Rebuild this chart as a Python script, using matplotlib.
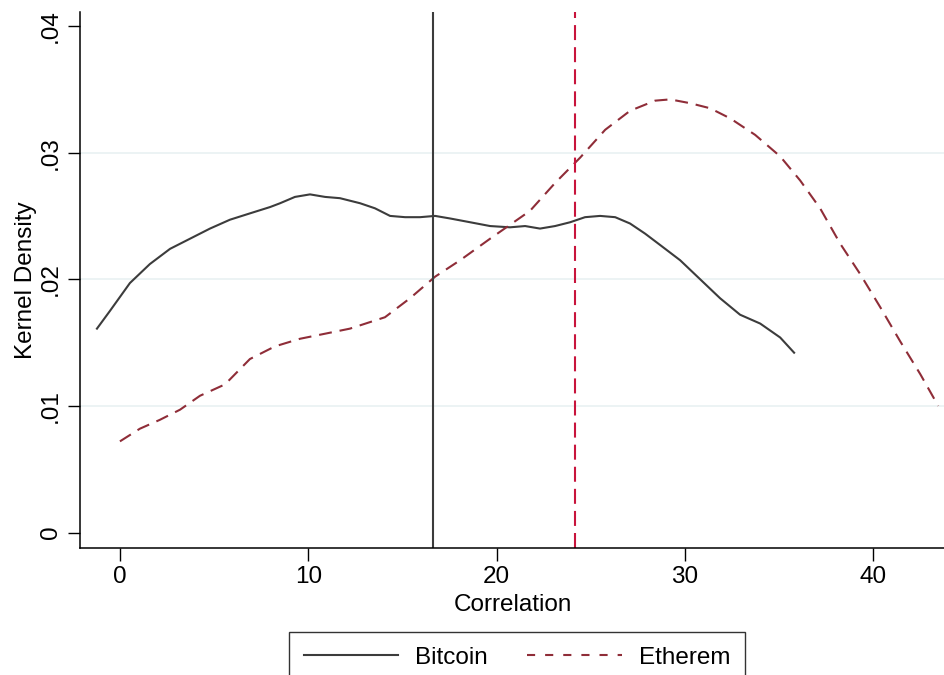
import matplotlib
matplotlib.use("Agg")
import matplotlib.pyplot as plt
from matplotlib.lines import Line2D

plt.rcParams['font.family'] = ['Liberation Sans', 'DejaVu Sans']

btc_x = [-1.22, -0.53, 0.53, 1.59, 2.66, 3.72, 4.78, 5.84, 6.90, 7.97, 8.50, 9.29, 10.09,
         10.89, 11.68, 12.75, 13.54, 14.34, 15.14, 15.93, 16.73, 17.52, 18.59, 19.65, 20.71,
         21.51, 22.30, 23.10, 23.90, 24.69, 25.49, 26.29, 27.08, 27.88, 28.68, 29.74, 30.80,
         31.86, 32.92, 33.99, 35.05, 35.79]
btc_y = [0.0161, 0.0175, 0.0197, 0.0212, 0.0224, 0.0232, 0.0240, 0.0247, 0.0252, 0.0257,
         0.0260, 0.0265, 0.0267, 0.0265, 0.0264, 0.0260, 0.0256, 0.0250, 0.0249, 0.0249,
         0.0250, 0.0248, 0.0245, 0.0242, 0.0241, 0.0242, 0.0240, 0.0242, 0.0245, 0.0249,
         0.0250, 0.0249, 0.0244, 0.0236, 0.0227, 0.0215, 0.0200, 0.0185, 0.0172, 0.0165,
         0.0154, 0.0142]

eth_x = [0.0, 1.06, 2.12, 3.19, 4.25, 5.58, 6.90, 8.23, 9.56, 10.89, 12.21, 14.07, 15.40,
         16.73, 18.06, 19.65, 21.77, 23.10, 24.43, 25.76, 27.08, 28.41, 29.21, 30.27, 31.33,
         32.40, 33.72, 35.05, 36.11, 37.17, 38.24, 39.30, 40.36, 41.42, 42.49, 43.44]
eth_y = [0.0072, 0.0082, 0.0089, 0.0097, 0.0108, 0.0117, 0.0137, 0.0147, 0.0153, 0.0157,
         0.0161, 0.0170, 0.0185, 0.0202, 0.0215, 0.0232, 0.0254, 0.0276, 0.0296, 0.0318,
         0.0333, 0.0341, 0.0342, 0.0339, 0.0335, 0.0327, 0.0314, 0.0297, 0.0278, 0.0256,
         0.0228, 0.0204, 0.0178, 0.0151, 0.0125, 0.0100]

btc_mean = 16.62
eth_mean = 24.16

x_ticks = [0, 10, 20, 30, 40]
y_ticks = [0, 0.01, 0.02, 0.03, 0.04]
y_labels = ["0", ".01", ".02", ".03", ".04"]
series_names = ["Bitcoin", "Etherem"]

FS = 17.5

fig = plt.figure(figsize=(9.45, 6.75), dpi=100)
ax = fig.add_axes([80/945, 1-548/675, 1-80/945, (548-12)/675])

for yv in [0.01, 0.02, 0.03]:
    ax.axhline(yv, color='#eaf2f3', lw=1.3, zorder=0)

ax.plot(btc_x, btc_y, color='#3c3c3c', lw=1.5)
ax.plot(eth_x, eth_y, color='#8f2d38', lw=1.5, dashes=(6.2, 3.8))
ax.axvline(btc_mean, color='#3c3c3c', lw=1.5)
ax.axvline(eth_mean, color='#c8143c', lw=1.5, dashes=(7.2, 3.4))

ax.set_xlim(-2.12, 43.8)
ax.set_ylim(-0.00122, 0.0411)
ax.set_xticks(x_ticks)
ax.set_yticks(y_ticks)
ax.set_yticklabels(y_labels, rotation=90, va='center')
ax.tick_params(axis='both', labelsize=FS, length=9, width=1, direction='out', colors='black')
ax.tick_params(axis='y', pad=4)
ax.tick_params(axis='x', pad=4)
for s in ['top', 'right']:
    ax.spines[s].set_visible(False)
for s in ['left', 'bottom']:
    ax.spines[s].set_linewidth(1.1)

ax.set_xlabel("Correlation", fontsize=FS, labelpad=4)
ax.set_ylabel("Kernel Density", fontsize=FS, labelpad=2)

handles = [Line2D([], [], color='#3c3c3c', lw=1.5),
           Line2D([], [], color='#8f2d38', lw=1.5, dashes=(3.9, 4.8))]
leg = fig.legend(handles, series_names, loc='upper center', bbox_to_anchor=(517/945, 1-632/675),
                 ncol=2, fontsize=FS, frameon=True, fancybox=False, handlelength=3.9,
                 columnspacing=1.6, borderpad=0.6, handletextpad=0.7, borderaxespad=0)
leg.get_frame().set_edgecolor('black')
leg.get_frame().set_linewidth(1.0)

fig.savefig("out.png", dpi=100)
